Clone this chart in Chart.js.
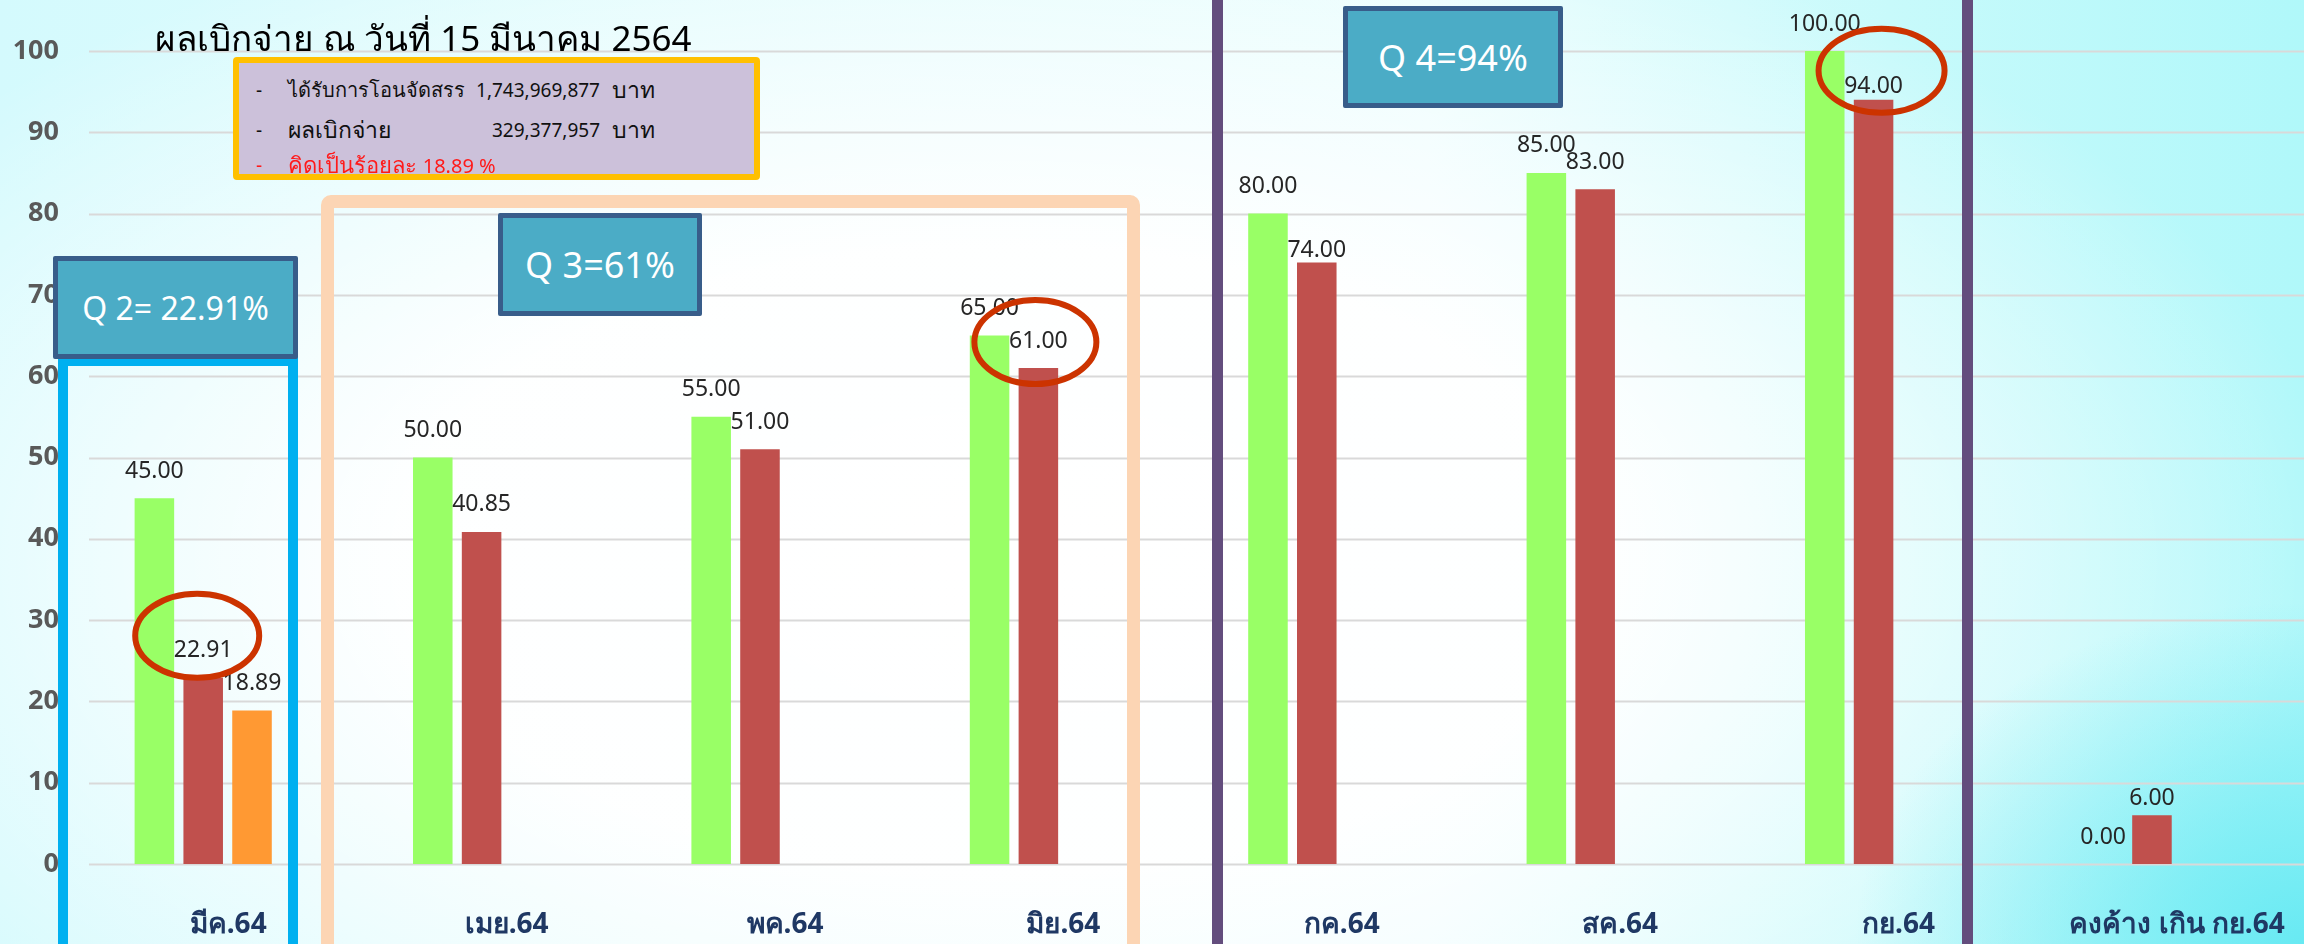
<!DOCTYPE html>
<html lang="th">
<head>
<meta charset="utf-8">
<title>ผลเบิกจ่าย ณ วันที่ 15 มีนาคม 2564</title>
<script src="https://cdn.jsdelivr.net/npm/chart.js@4.4.1/dist/chart.umd.min.js"></script>
<style>
  body { margin: 0; }
  #wrap {
    position: relative; width: 2304px; height: 944px; overflow: hidden;
    font-family: "Noto Sans", Tahoma, sans-serif;
    background:
      radial-gradient(ellipse 500px 380px at 2304px 944px, rgba(96,232,242,0.9), rgba(96,232,242,0) 90%),
      radial-gradient(ellipse 1350px 700px at 1000px 560px, #ffffff 0%, rgba(255,255,255,0.96) 45%, rgba(255,255,255,0) 100%),
      linear-gradient(90deg, #d4fafd 0%, #e2fcfd 30%, #e8fdfe 62%, #c8fafb 82%, #b0f8fa 100%);
  }
  #chart { position: absolute; left: 0; top: 0; }
  .box { position: absolute; box-sizing: border-box; }
  .q {
    position: absolute; box-sizing: border-box; background: #4bacc6; border: 5px solid #385d8a;
    color: #fff; display: flex; align-items: center; justify-content: center; border-radius: 2px;
  }
  .info { position: absolute; font-size: 19px; line-height: 24px; color: #111; white-space: nowrap; }
  .red { color: #ff1a1a; }
</style>
</head>
<body>
<div id="wrap">
  <canvas id="chart" width="2304" height="944"></canvas>

  <!-- quarter frames -->
  <div class="box" style="left:58px; top:356px; width:240px; height:700px; border:10px solid #00b0f0;"></div>
  <div class="box" style="left:321px; top:195px; width:819px; height:900px; border:13px solid #fcd5b4; border-radius:10px;"></div>
  <div class="box" style="left:1212px; top:-20px; width:761px; height:1000px; border-left:11px solid #634d7d; border-right:11px solid #634d7d;"></div>

  <div class="q" style="left:53px; top:256px; width:245px; height:103px; font-size:32px;">Q 2= 22.91%</div>
  <div class="q" style="left:498px; top:213px; width:204px; height:103px; font-size:36px;">Q 3=61%</div>
  <div class="q" style="left:1343px; top:6px; width:220px; height:102px; font-size:36px;">Q 4=94%</div>

  <div class="info" style="left:155px; top:16px; font-size:35px; line-height:44px; color:#000;">ผลเบิกจ่าย ณ วันที่ 15 มีนาคม 2564</div>

  <div class="box" style="left:233px; top:57px; width:527px; height:123px; background:#ccc1da; border:6px solid #ffc000; border-radius:4px;"></div>
  <div class="info" style="left:256px; top:78px;">-</div>
  <div class="info" style="left:288px; top:78px; font-size:20px;">ได้รับการโอนจัดสรร</div>
  <div class="info" style="right:1704px; top:78px;">1,743,969,877</div>
  <div class="info" style="left:612px; top:77px; font-size:23px;">บาท</div>
  <div class="info" style="left:256px; top:118px;">-</div>
  <div class="info" style="left:288px; top:117px; font-size:23px;">ผลเบิกจ่าย</div>
  <div class="info" style="right:1704px; top:118px;">329,377,957</div>
  <div class="info" style="left:612px; top:117px; font-size:23px;">บาท</div>
  <div class="info red" style="left:256px; top:153px;">-</div>
  <div class="info red" style="left:288px; top:152px; font-size:22px;">คิดเป็นร้อยละ <span style="font-size:20px">18.89 %</span></div>
</div>

<script>
const months = ["มีค.64", "เมย.64", "พค.64", "มิย.64", "กค.64", "สค.64", "กย.64", "คงค้าง เกิน กย.64"];
// target (%), actual disbursement (%), and the March snapshot
const targetPct = [45, 50, 55, 65, 80, 85, 100, 0];
const actualPct = [22.91, 40.85, 51, 61, 74, 83, 94, 6];
const marchPct = [18.89, null, null, null, null, null, null, null];
const yTicks = [0, 10, 20, 30, 40, 50, 60, 70, 80, 90, 100];

// y gridlines start a bit right of the plot edge
const gridLines = {
    id: 'gridLines',
    beforeDatasetsDraw(chart, args, opts) {
        const { ctx, scales: { y } } = chart;
        ctx.save();
        ctx.strokeStyle = opts.color;
        ctx.lineWidth = opts.width;
        for (let v of yTicks) {
            let py = Math.round(y.getPixelForValue(v)) + 0.5;
            ctx.beginPath();
            ctx.moveTo(opts.left, py);
            ctx.lineTo(chart.width, py);
            ctx.stroke();
        }
        ctx.restore();
    }
};

// value text above every bar
const valueLabels = {
    id: 'valueLabels',
    afterDatasetsDraw(chart, args, opts) {
        const { ctx } = chart;
        ctx.save();
        ctx.font = opts.font;
        ctx.fillStyle = opts.color;
        ctx.textAlign = 'center';
        ctx.textBaseline = 'middle';
        chart.data.datasets.forEach((ds, di) => {
            chart.getDatasetMeta(di).data.forEach((bar, i) => {
                let v = ds.data[i];
                if (v === null) return;
                let nudge = opts.nudge[di + ':' + i] || 0;
                ctx.fillText(v.toFixed(2), bar.x, bar.y - opts.gap + nudge);
            });
        });
        ctx.restore();
    }
};

// red rings around the highlighted results
const rings = {
    id: 'rings',
    afterDraw(chart, args, opts) {
        const { ctx } = chart;
        ctx.save();
        ctx.strokeStyle = opts.color;
        ctx.lineWidth = opts.width;
        for (let r of opts.items) {
            let bar = chart.getDatasetMeta(r.ds).data[r.i];
            ctx.beginPath();
            ctx.ellipse(bar.x + r.dx, bar.y - r.dy, r.rx, r.ry, 0, 0, Math.PI * 2);
            ctx.stroke();
        }
        ctx.restore();
    }
};

window.addEventListener("DOMContentLoaded", () => {
    const ctx = document.getElementById('chart');

    new Chart(ctx, {
        type: 'bar',
        data: {
            labels: months,
            datasets: [
                { label: 'เป้าหมาย', data: targetPct, backgroundColor: '#99ff66' },
                { label: 'ผลเบิกจ่าย', data: actualPct, backgroundColor: '#c0504d' },
                { label: 'มีค.64', data: marchPct, backgroundColor: '#ff9933' }
            ]
        },
        options: {
            responsive: false,
            animation: false,
            devicePixelRatio: 1,
            categoryPercentage: 0.526,
            barPercentage: 0.81,
            layout: { padding: { top: 51, right: 5, left: 0, bottom: 0 } },
            plugins: {
                legend: { display: false },
                tooltip: { enabled: false },
                gridLines: { color: '#d9d9d9', width: 2, left: 89 },
                valueLabels: {
                    font: '23px "Noto Sans", Tahoma, sans-serif',
                    color: '#262626',
                    gap: 27,
                    nudge: { '1:4': 15, '1:6': 14, '1:7': 10 }
                },
                rings: {
                    color: '#cc3300',
                    width: 6,
                    items: [
                        { ds: 1, i: 0, dx: -6, dy: 42, rx: 62, ry: 42 },
                        { ds: 1, i: 3, dx: -3, dy: 26, rx: 61, ry: 42 },
                        { ds: 1, i: 6, dx: 8, dy: 29, rx: 63, ry: 42 }
                    ]
                }
            },
            scales: {
                x: {
                    grid: { display: false, drawTicks: false },
                    border: { display: false },
                    afterFit: (s) => { s.height = 80; },
                    ticks: {
                        color: '#1f3864',
                        font: { family: '"Noto Sans", Tahoma, sans-serif', size: 28, weight: 'bold' },
                        labelOffset: 25,
                        padding: 44,
                        maxRotation: 0,
                        autoSkip: false
                    }
                },
                y: {
                    min: 0,
                    max: 100,
                    grid: { display: false, drawTicks: false },
                    border: { display: false },
                    afterFit: (s) => { s.width = 64; },
                    ticks: {
                        stepSize: 10,
                        padding: 5,
                        color: '#595959',
                        font: { family: '"Noto Sans", sans-serif', size: 27, weight: 'bold' }
                    }
                }
            }
        },
        plugins: [gridLines, valueLabels, rings]
    });
});
</script>
</body>
</html>
